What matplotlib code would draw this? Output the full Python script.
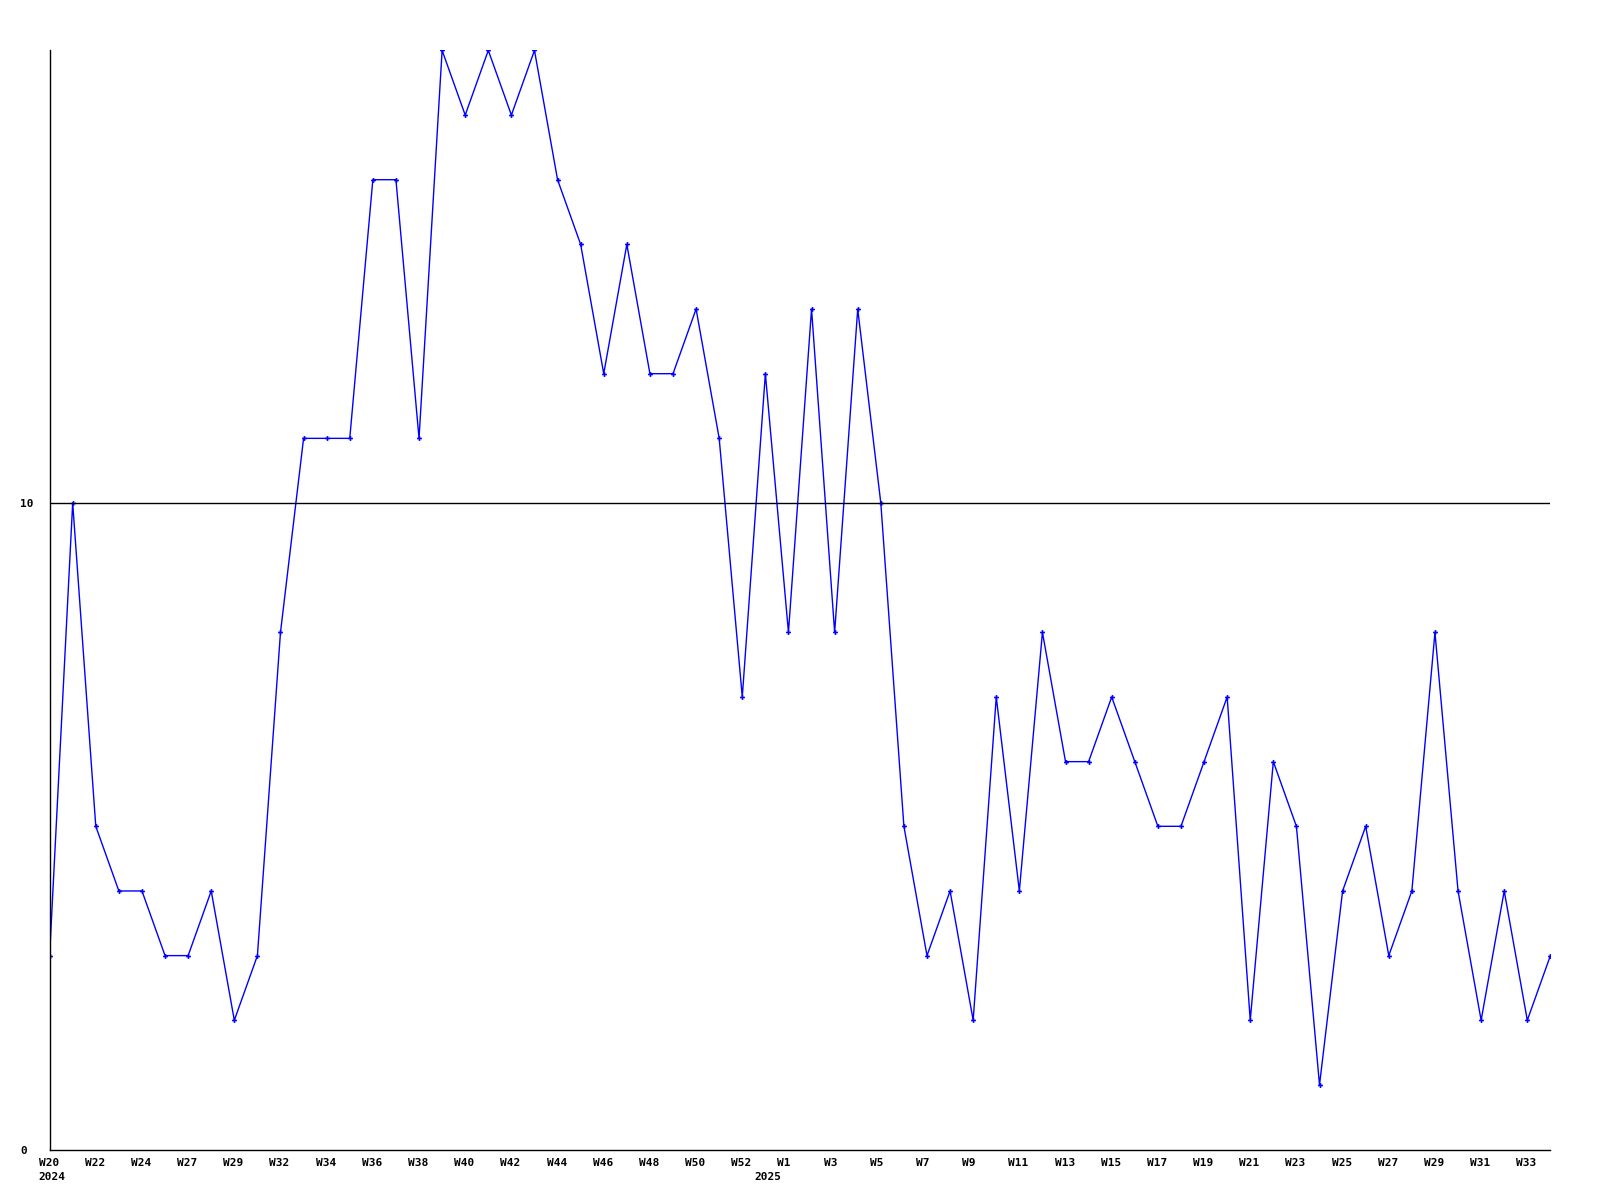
import matplotlib
matplotlib.use("Agg")
import matplotlib.pyplot as plt
from matplotlib.transforms import ScaledTranslation

# weekly values, W20 2024 .. W34 2025
values = [3, 10, 5, 4, 4, 3, 3, 4, 2, 3,
          8, 11, 11, 11, 15, 15, 11, 17, 16, 17,
          16, 17, 15, 14, 12, 14, 12, 12, 13, 11,
          7, 12, 8, 13, 8, 13, 10, 5, 3, 4,
          2, 7, 4, 8, 6, 6, 7, 6, 5, 5,
          6, 7, 2, 6, 5, 1, 4, 5, 3, 4,
          8, 4, 2, 4, 2, 3]

# labels on every second point
tick_labels = ["W20", "W22", "W24", "W27", "W29", "W32", "W34", "W36",
               "W38", "W40", "W42", "W44", "W46", "W48", "W50", "W52",
               "W1", "W3", "W5", "W7", "W9", "W11", "W13", "W15",
               "W17", "W19", "W21", "W23", "W25", "W27", "W29", "W31", "W33"]
years = ["2024", "2025"]
year_pos = [0, 31]

x = list(range(len(values)))

fig = plt.figure(figsize=(16, 12), dpi=100)
ax = fig.add_axes([0.031, 0.042, 0.938, 0.916])

ax.plot(x, values, color="#0000ff", lw=1, marker="P", ms=3.5, mew=0)
ax.axhline(10, color="black", lw=1)

ax.set_xlim(0, len(values) - 1)
ax.set_ylim(0, 17)

font = dict(family="DejaVu Sans Mono", weight="bold", size=8)
ax.set_xticks([])
ax.set_yticks([0, 10])
ax.set_yticklabels(["0", "10"], **font, ha="left")
ax.tick_params(length=0)
ax.tick_params(axis="y", pad=21)

# week labels start a little left of their point
def label_tf(dy):
    return (ax.get_xaxis_transform()
            + ScaledTranslation(-11 / 100, -dy / 100, fig.dpi_scale_trans))

for p, lab in zip(x[::2], tick_labels):
    ax.text(p, 0, lab, **font, ha="left", va="top",
            transform=label_tf(8), clip_on=False)

# year labels under the first week of each year
for yr, p in zip(years, year_pos):
    ax.text(p, 0, yr, **font, ha="left", va="top",
            transform=label_tf(22), clip_on=False)

for s in ("top", "right"):
    ax.spines[s].set_visible(False)
for s in ("left", "bottom"):
    ax.spines[s].set_linewidth(1)

fig.savefig("out.png", dpi=100)
